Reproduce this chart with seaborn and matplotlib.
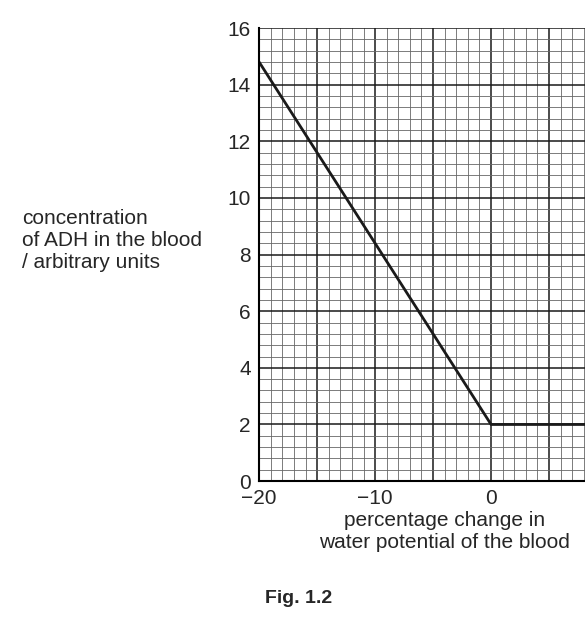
import matplotlib
matplotlib.use("Agg")
import matplotlib.pyplot as plt
import seaborn as sns
import numpy as np
import pandas as pd

sns.set_style("white")
plt.rcParams['font.family'] = ['Liberation Sans', 'DejaVu Sans']

x_vals = [-20, 0, 8.2]
y_vals = [14.8, 2, 2]
df = pd.DataFrame({"x": x_vals, "y": y_vals})

fig = plt.figure(figsize=(5.85, 6.24), dpi=100)
ax = fig.add_axes([0.443, 0.229, 0.557, 0.726])
ax.set_xlim(-20, 8.1)
ax.set_ylim(0, 16)
ax.set_xticks(np.arange(-20, 9, 1), minor=True)
ax.set_yticks(np.arange(0, 16.01, 0.4), minor=True)
ax.set_xticks(np.arange(-20, 9, 5), minor=False)
ax.set_yticks(np.arange(0, 17, 2))
ax.grid(which='minor', color='#666666', linewidth=0.6)
ax.grid(which='major', color='#1a1a1a', linewidth=1.1)
ax.set_axisbelow(True)
sns.lineplot(data=df, x="x", y="y", color='#1a1a1a', linewidth=2, ax=ax)
ax.set_xticks(np.arange(-20, 9, 5), minor=False)
ax.set_xticklabels(['\u221220', '', '\u221210', '', '0', ''], fontsize=15)
ax.set_yticks(np.arange(0, 17, 2))
ax.set_yticklabels([str(v) for v in range(0, 17, 2)], fontsize=15)
ax.tick_params(axis='both', which='major', direction='out', length=6, width=1.2, color='black', pad=0)
ax.tick_params(which='minor', length=0)
for s in ['left', 'bottom']:
    ax.spines[s].set_color('black'); ax.spines[s].set_linewidth(1.5)
for s in ['top', 'right']:
    ax.spines[s].set_visible(False)
ax.set_xlabel('')
ax.set_ylabel('')
fig.text(0.76, 0.045 + 0.07, 'percentage change in\nwater potential of the blood', fontsize=15, ha='center', va='bottom', linespacing=1.2)
fig.text(0.038, 0.615, 'concentration\nof ADH in the blood\n/ arbitrary units', fontsize=15, va='center', ha='left', linespacing=1.2)
fig.text(0.51, 0.033, 'Fig. 1.2', fontsize=14, fontweight='bold', ha='center')
fig.savefig('out.png', dpi=100)
